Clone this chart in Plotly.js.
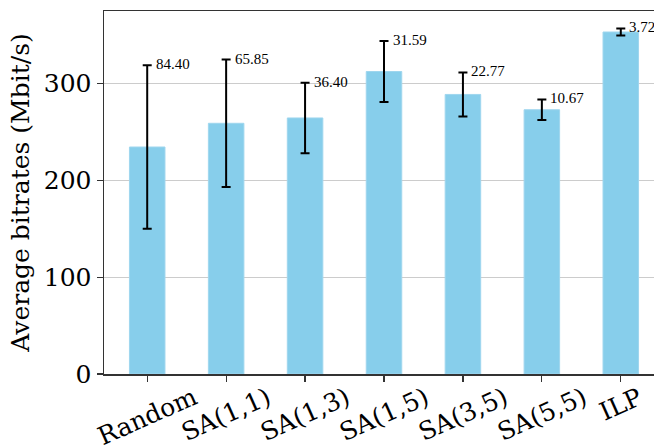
<!DOCTYPE html>
<html>
<head>
<meta charset="utf-8">
<script src="https://cdn.plot.ly/plotly-3.0.1.min.js"></script>
<style>
html, body { margin: 0; padding: 0; overflow: hidden; background: #fff; }
#chart { width: 680px; height: 448px; }
</style>
</head>
<body>
<div id="chart"></div>
<script>
const categories = ["Random", "SA(1,1)", "SA(1,3)", "SA(1,5)", "SA(3,5)", "SA(5,5)", "ILP"];
const meanBitrates = [234.5, 259.0, 264.5, 312.5, 288.8, 273.0, 353.3];
const stdBitrates = [84.40, 65.85, 36.40, 31.59, 22.77, 10.67, 3.72];
const stdLabels = ["84.40", "65.85", "36.40", "31.59", "22.77", "10.67", "3.72"];
const yTicks = [0, 100, 200, 300];

const serif = "DejaVu Serif, serif";
const annSerif = "Liberation Serif, Times New Roman, serif";

const trace = {
  type: "bar",
  x: categories,
  y: meanBitrates,
  width: 0.45,
  marker: { color: "#87CEEB", line: { color: "#9fd6ee", width: 1 } },
  error_y: { type: "data", array: stdBitrates, visible: true, color: "#000", thickness: 2, width: 4.5 },
  hoverinfo: "skip"
};

const annotations = [];
categories.forEach((c, i) => {
  annotations.push({
    x: c, y: meanBitrates[i] + stdBitrates[i], xref: "x", yref: "y",
    text: stdLabels[i], showarrow: false, xanchor: "left", yanchor: "middle",
    xshift: 6.5, yshift: 1,
    font: { family: annSerif, size: 15, color: "#000" }
  });
  annotations.push({
    x: c, y: 0, xref: "x", yref: "paper",
    text: c, showarrow: false, xanchor: "center", yanchor: "top",
    textangle: -24, yshift: -7, borderpad: 0,
    font: { family: serif, size: 25, color: "#000" }
  });
});

const layout = {
  width: 680, height: 448,
  margin: { l: 104, r: 16, t: 11, b: 74 },
  paper_bgcolor: "#fff", plot_bgcolor: "#fff",
  showlegend: false,
  font: { family: serif, color: "#000" },
  xaxis: {
    type: "category",
    range: [-0.5475, 6.5475],
    showticklabels: false,
    ticks: "outside", ticklen: 6, tickwidth: 1.2, tickcolor: "#333",
    showline: true, linecolor: "#333", linewidth: 1.5, mirror: true,
    showgrid: false, zeroline: false
  },
  yaxis: {
    range: [0, 375],
    tickvals: yTicks,
    ticktext: yTicks.map(String),
    ticks: "outside", ticklen: 6, tickwidth: 1.2, tickcolor: "#333",
    tickfont: { family: serif, size: 25, color: "#000" },
    showline: true, linecolor: "#333", linewidth: 1.5, mirror: true,
    showgrid: true, gridcolor: "#cccccc", gridwidth: 1.2,
    zeroline: false,
    title: { text: "Average bitrates (Mbit/s)", font: { family: serif, size: 25, color: "#000" }, standoff: 7 }
  },
  annotations: annotations
};

Plotly.newPlot("chart", [trace], layout, { displayModeBar: false, staticPlot: true });
</script>
</body>
</html>
